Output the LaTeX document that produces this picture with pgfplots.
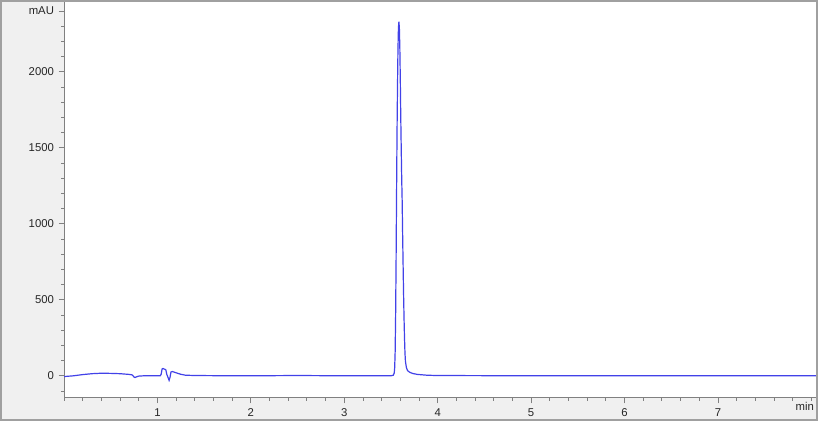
\documentclass[border=0pt]{standalone}
\usepackage{fontspec}
\setmainfont{Liberation Sans}
\usepackage{pgfplots}
\pgfplotsset{compat=1.18}
\definecolor{bgcol}{HTML}{F0F0F0}
\definecolor{framecol}{HTML}{A0A0A0}
\definecolor{axcol}{HTML}{808080}
\definecolor{tracecol}{RGB}{66,66,232}
\begin{document}
\begin{tikzpicture}[x=1pt,y=1pt]
\fill[bgcol] (0,0) rectangle (613.5,315.75);
\useasboundingbox (0,0) rectangle (613.5,315.75);
\begin{axis}[
  at={(48pt,17.25pt)}, anchor=south west,
  scale only axis, width=564pt, height=297pt,
  xmin=0, xmax=8.05, ymin=-146, ymax=2460,
  axis lines*=left,
  axis line style={axcol, line width=0.75pt},
  axis background/.style={fill=white},
  tick align=outside,
  major tick length=4pt, minor tick length=2.25pt,
  every tick/.style={axcol, line width=0.6pt},
  xtick={1,2,3,4,5,6,7},
  minor xtick={0,0.2,...,8},
  extra x ticks={7.93}, extra x tick labels={min},
  extra x tick style={major tick length=0pt},
  ytick={0,500,1000,1500,2000,2400},
  yticklabels={0,500,1000,1500,2000,mAU},
  minor ytick={-100,0,...,2300},
  /pgf/number format/assume math mode=true,
  tick label style={font=\fontsize{8.5}{10}\selectfont, text=black!85},
  xticklabel style={text height=6.2pt, text depth=0pt},
  clip=true,
]
\addplot[tracecol, line width=0.9pt] coordinates {
  (0,-5)(0.1,0)(0.2,8)(0.3,14)(0.4,17)(0.5,16)(0.6,14)(0.7,9)(0.73,6)
  (0.75,-8)(0.76,-11)(0.78,-6)(0.8,-2)(0.85,0)(0.9,0)(1.0,0)(1.03,0)
  (1.04,10)(1.05,45)(1.06,48)(1.075,44)(1.09,40)(1.1,10)(1.11,-5)
  (1.125,-30)(1.135,-10)(1.145,25)(1.16,28)(1.2,20)(1.25,10)(1.3,4)
  (1.4,2)(1.6,1)(2.0,0)(2.5,2)(3.0,0)(3.4,0)(3.505,1)(3.525,4)
  (3.535,18)(3.54,55)(3.545,160)(3.55,400)(3.555,760)(3.56,1200)
  (3.565,1600)(3.57,1900)(3.575,2150)(3.58,2290)(3.585,2331)
  (3.59,2290)(3.595,2160)(3.6,1950)(3.605,1700)(3.61,1490)(3.615,1300)
  (3.62,1150)(3.625,930)(3.63,730)(3.635,540)(3.64,380)(3.645,250)
  (3.65,150)(3.655,95)(3.665,55)(3.675,38)(3.685,30)(3.705,22)
  (3.735,15)(3.785,9)(3.885,4)(3.985,2)(4.5,1)(5,0)(6,0)(7,0)(8.05,0)
};
\end{axis}
\draw[framecol, line width=1.5pt] (0.75,0.75) rectangle (612.75,315);
\end{tikzpicture}
\end{document}
